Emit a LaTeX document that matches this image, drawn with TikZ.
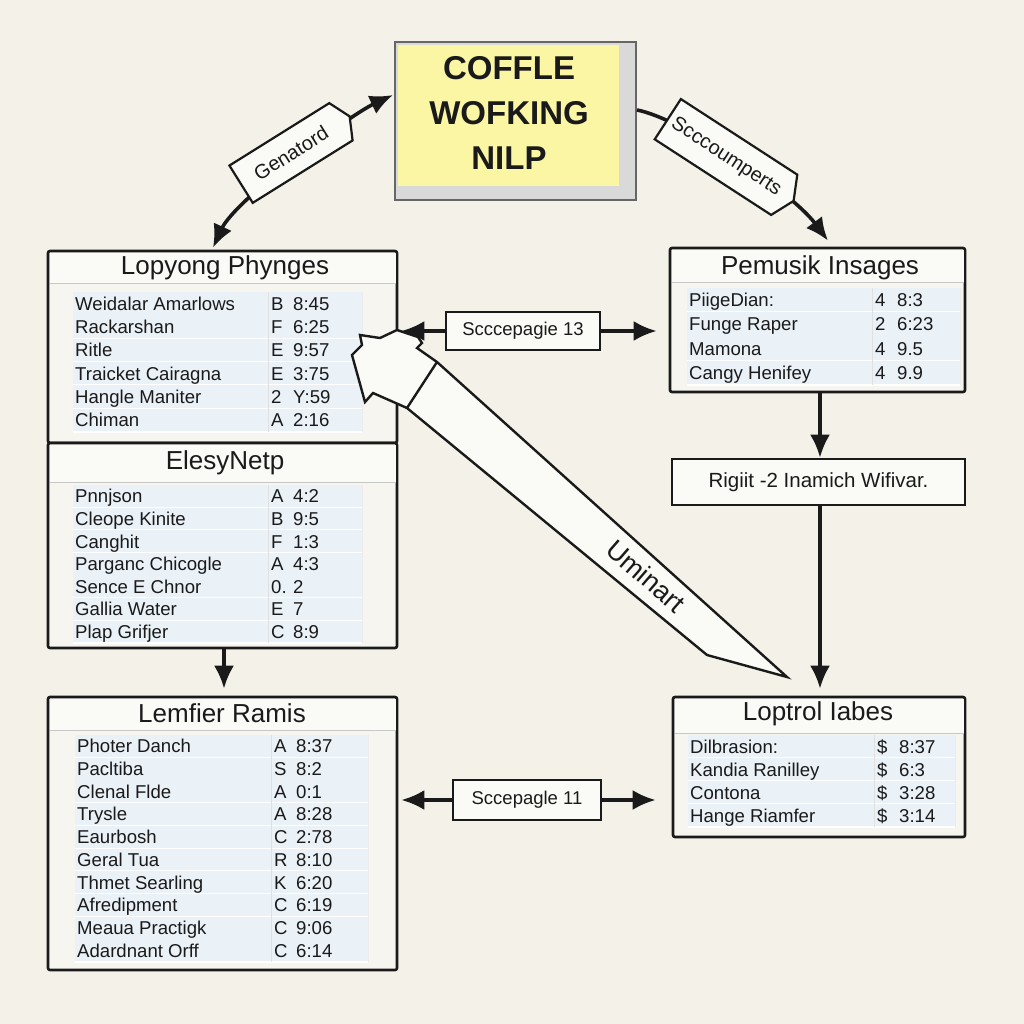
\documentclass[tikz,border=0pt]{standalone}
\usepackage{fontspec}
\setmainfont{Liberation Sans}
\usetikzlibrary{arrows.meta,shapes.symbols,calc}
\definecolor{bg}{HTML}{F4F1E8}
\definecolor{boxfill}{HTML}{F6F5F0}
\definecolor{bandfill}{HTML}{FAFAF6}
\definecolor{tblfill}{HTML}{EAF1F7}
\definecolor{ttlyellow}{HTML}{FAF6A4}
\definecolor{shadowgray}{HTML}{D9D9D9}
\definecolor{ink}{HTML}{1A1A1A}

\newcommand{\mktable}[7]{%
 \foreach \na/\le/\nu [count=\i] in {#7}{%
  \fill[tblfill] (#2,{#3+(\i-1)*#5}) rectangle (#4,{#3+\i*#5});
  \draw[white, line width=1.6pt] (#2,{#3+\i*#5}) -- (#4,{#3+\i*#5});
  \draw[black!12, line width=0.8pt] (#6,{#3+(\i-1)*#5}) -- (#6,{#3+\i*#5});
  \draw[black!8, line width=0.8pt] (#4,{#3+(\i-1)*#5}) -- (#4,{#3+\i*#5});
  \node[rowtxt] (#1a\i) at (#2+2,{#3+(\i-0.5)*#5+6.5}) {\na};
  \node[rowtxt] (#1b\i) at (#6+3,{#3+(\i-0.5)*#5+6.5}) {\le};
  \node[rowtxt] (#1c\i) at (#6+25,{#3+(\i-0.5)*#5+6.5}) {\nu};
 }%
}

\begin{document}
\begin{tikzpicture}[x=1pt,y=-1pt,
  conn/.style={line width=3.6pt, draw=ink},
  arr/.style={-{Latex[length=23pt,width=20pt]}},
  darr/.style={{Latex[length=23pt,width=20pt]}-{Latex[length=23pt,width=20pt]}},
  tblbox/.style={draw=ink, line width=2.6pt, fill=boxfill, rounded corners=2pt, inner sep=0pt},
  plainbox/.style={draw=ink, line width=2.6pt, fill=bandfill, inner sep=0pt},
  rowtxt/.style={anchor=base west, inner sep=0pt, font=\fontsize{18.6}{18.6}\selectfont, text=ink},
  ttl/.style={inner sep=0pt, font=\fontsize{26}{26}\selectfont, text=ink},
  tagbox/.style={shape=signal, signal to=east, signal pointer angle=130, draw=ink, line width=2.2pt, fill=bandfill, inner sep=0pt, font=\fontsize{20}{20}\selectfont, text=ink},
  sep/.style={draw=black!22, line width=1pt}
]
% background
\fill[bg] (0,0) rectangle (1024,1024);
\useasboundingbox (0,0) rectangle (1024,1024);

% ---------- title box ----------
\node[draw=black!60, line width=2pt, fill=shadowgray, minimum width=241pt, minimum height=158pt, inner sep=0pt] (tb) at (515.5,121) {};
\fill[ttlyellow] (398,45) rectangle (619,186);
\node[inner sep=0pt, align=center, font=\bfseries\fontsize{33}{45}\selectfont, text=ink] (tbt) at (509,113) {COFFLE\\WOFKING\\NILP};

% ---------- left boxes ----------
\node[tblbox, minimum width=349pt, minimum height=192pt] (lp) at (222.5,347) {};
\fill[bandfill] (49.5,252.5) rectangle (395.5,283);
\draw[sep] (49.5,283) -- (395.5,283);
\node[ttl] (lpt) at (225,268) {Lopyong Phynges};
\mktable{t1}{73}{292}{362}{23.3}{268}{Weidalar Amarlows/B/8:45, Rackarshan/F/6:25, Ritle/E/9:57, Traicket Cairagna/E/3:75, Hangle Maniter/2/Y:59, Chiman/A/2:16}

\node[tblbox, minimum width=349pt, minimum height=205pt] (el) at (222.5,545.5) {};
\fill[bandfill] (49.5,445) rectangle (395.5,482);
\draw[sep] (49.5,482) -- (395.5,482);
\node[ttl] (elt) at (225,463) {ElesyNetp};
\mktable{t2}{73}{485}{362}{22.6}{268}{Pnnjson/A/4:2, Cleope Kinite/B/9:5, Canghit/F/1:3, Parganc Chicogle/A/4:3, Sence E Chnor/0./2, Gallia Water/E/7, Plap Grifjer/C/8:9}

\node[tblbox, minimum width=349pt, minimum height=273pt] (lf) at (222.5,833.5) {};
\fill[bandfill] (49.5,698.5) rectangle (395.5,730);
\draw[sep] (49.5,730) -- (395.5,730);
\node[ttl] (lft) at (222,713) {Lemfier Ramis};
\mktable{t3}{75}{735}{368}{22.7}{271}{Photer Danch/A/8:37, Pacltiba/S/8:2, Clenal Flde/A/0:1, Trysle/A/8:28, Eaurbosh/C/2:78, Geral Tua/R/8:10, Thmet Searling/K/6:20, Afredipment/C/6:19, Meaua Practigk/C/9:06, Adardnant Orff/C/6:14}

% ---------- right boxes ----------
\node[tblbox, minimum width=295pt, minimum height=144pt] (pm) at (817.5,320) {};
\fill[bandfill] (671.5,249.5) rectangle (963.5,282);
\draw[sep] (671.5,282) -- (963.5,282);
\node[ttl] (pmt) at (820,268) {Pemusik Insages};
\mktable{t4}{687}{288}{960}{24.2}{872}{PiigeDian:/4/8:3, Funge Raper/2/6:23, Mamona/4/9.5, Cangy Henifey/4/9.9}

\node[plainbox, minimum width=293pt, minimum height=46pt, font=\fontsize{20.5}{20.5}\selectfont, text=ink] (rg) at (818.5,482) {Rigiit -2 Inamich Wifivar.};

\node[tblbox, minimum width=292pt, minimum height=140pt] (lo) at (819,767) {};
\fill[bandfill] (674.5,698.5) rectangle (963.5,733);
\draw[sep] (674.5,733) -- (963.5,733);
\node[ttl] (lot) at (818,714) {Loptrol Iabes};
\mktable{t5}{688}{735}{955}{23}{874}{Dilbrasion:/\$/8:37, Kandia Ranilley/\$/6:3, Contona/\$/3:28, Hange Riamfer/\$/3:14}

% ---------- big hollow arrow (over the left box) ----------
\draw[ink, line width=2.4pt, fill=bandfill, line join=miter]
  (407,408) -- (373,393) -- (365,402) -- (352,355) -- (362,345) -- (360,335)
  -- (380,338) -- (397,330) -- (418,337) -- (422,343) -- (417,348) -- (437,362)
  -- (787,677) -- (707,655) -- cycle;
\draw[ink, line width=2.4pt] (407,408) -- (437,362);
\node[inner sep=0pt, rotate=-41, font=\fontsize{27}{27}\selectfont, text=ink] (umi) at (646,576) {Uminart};

% ---------- middle label boxes ----------
\node[plainbox, line width=2.2pt, minimum width=154pt, minimum height=38pt, font=\fontsize{18.5}{18.5}\selectfont, text=ink] (s13) at (523,331) {Scccepagie 13};
\node[plainbox, line width=2.2pt, minimum width=148pt, minimum height=40pt, font=\fontsize{18.5}{18.5}\selectfont, text=ink] (s11) at (527,800) {Sccepagle 11};

% ---------- connectors ----------
\draw[conn, arr] (s13.west) -- ([xshift=3pt]s13.west -| lp.east);
\draw[conn, arr] (s13.east) -- ([xshift=-12pt]s13.east -| pm.west);
\draw[conn, arr] (s11.west) -- ([xshift=3pt]s11.west -| lf.east);
\draw[conn, arr] (s11.east) -- ([xshift=-16pt]s11.east -| lo.west);

\coordinate (pmo) at ([xshift=2.5pt]pm.south);
\draw[conn, arr] (pmo) -- (pmo |- rg.north);
\coordinate (rgo) at (pmo |- rg.south);
\draw[conn, arr] (rgo) -- ([yshift=7pt]rgo |- lo.north);
\coordinate (elo) at ([xshift=1.5pt]el.south);
\draw[conn, arr] (elo) -- ([yshift=7pt]elo |- lf.north);

% Genatord connector
\coordinate (gs) at ([xshift=-9.5pt,yshift=2pt]lp.north);
\coordinate (ge) at ([xshift=-1pt,yshift=26pt]tb.west);
\draw[conn, darr] (gs) .. controls (235,200) and (350,115) .. (ge);
\node[tagbox, rotate=32, minimum width=128pt, minimum height=44pt] (gtag) at (291,153) {Genatord};

% Scccoumperts connector
\coordinate (ss) at ([yshift=11pt]tb.east);
\coordinate (se) at ([xshift=10.5pt,yshift=6pt]pm.north);
\draw[conn, arr] (ss) .. controls (680,118) and (790,190) .. (se);
\node[tagbox, rotate=-33, minimum width=150pt, minimum height=48pt] (stag) at (726,157) {Scccoumperts};

\end{tikzpicture}
\end{document}
